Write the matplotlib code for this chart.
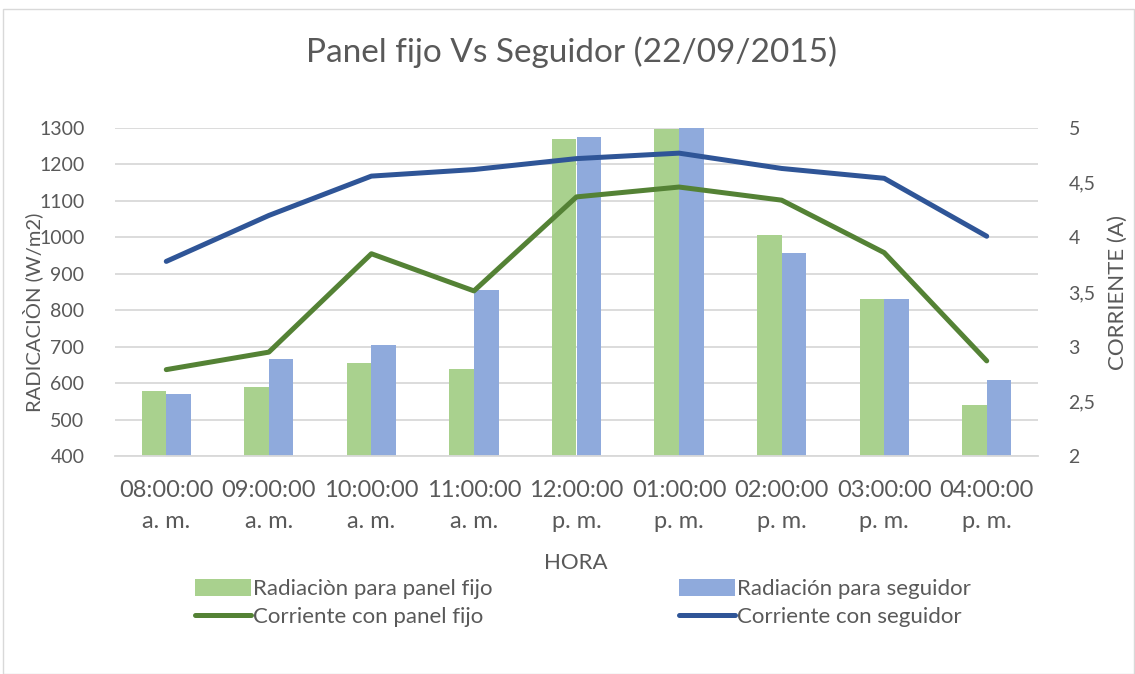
import matplotlib
matplotlib.use("Agg")
import matplotlib.pyplot as plt
import numpy as np
from matplotlib.patches import Rectangle

plt.rcParams['font.family'] = ['Lato', 'DejaVu Sans']

hours = ["08:00:00\na. m.", "09:00:00\na. m.", "10:00:00\na. m.", "11:00:00\na. m.",
         "12:00:00\np. m.", "01:00:00\np. m.", "02:00:00\np. m.", "03:00:00\np. m.",
         "04:00:00\np. m."]
rad_fijo = [579, 590, 654, 639, 1269, 1296, 1007, 831, 541]
rad_seguidor = [569, 666, 705, 855, 1274, 1300, 956, 830, 608]
corr_fijo = [2.79, 2.95, 3.85, 3.51, 4.37, 4.46, 4.34, 3.86, 2.87]
corr_seguidor = [3.78, 4.20, 4.56, 4.62, 4.72, 4.77, 4.63, 4.54, 4.01]
left_ticks = list(range(400, 1301, 100))
right_ticks = [2, 2.5, 3, 3.5, 4, 4.5, 5]

C_BAR_G = '#A9D18E'
C_BAR_B = '#8FAADC'
C_LINE_G = '#548235'
C_LINE_B = '#2F5597'
C_TEXT = '#595959'
C_GRID = '#D9D9D9'

W, H = 1135, 674
fig = plt.figure(figsize=(W / 100, H / 100), dpi=100)
fig.patches.append(Rectangle((3 / W, 0), (W - 4) / W, (H - 9) / H, transform=fig.transFigure,
                             fill=False, edgecolor=C_GRID, linewidth=1.0))

x0, x1, y0, y1 = 115, 1038, 128, 456
ax = fig.add_axes([x0 / W, 1 - y1 / H, (x1 - x0) / W, (y1 - y0) / H])
ax2 = ax.twinx()

x = np.arange(len(hours))
bw = 0.24
ax.bar(x - bw / 2, rad_fijo, bw, color=C_BAR_G, label='Radiaciòn para panel fijo', zorder=2)
ax.bar(x + bw / 2, rad_seguidor, bw, color=C_BAR_B, label='Radiación para seguidor', zorder=2)
ax.set_ylim(400, 1300)
ax.set_xlim(-0.5, len(hours) - 0.5)
ax.set_yticks(left_ticks)
ax.yaxis.grid(True, color=C_GRID, linewidth=1.3, zorder=0)
ax.set_axisbelow(True)
ax.set_xticks(x)
ax.set_xticklabels(hours, fontsize=17, color=C_TEXT, linespacing=1.6)
ax.tick_params(axis='x', length=0, pad=17)
ax.tick_params(axis='y', length=0, labelsize=14, labelcolor=C_TEXT, pad=22)
for s in ['top', 'right', 'left']:
    ax.spines[s].set_visible(False)
ax.spines['bottom'].set_color(C_GRID)
ax.spines['bottom'].set_linewidth(1.3)

ax2.plot(x, corr_fijo, color=C_LINE_G, linewidth=3.6, solid_capstyle='round',
         solid_joinstyle='round', label='Corriente con panel fijo', zorder=3)
ax2.plot(x, corr_seguidor, color=C_LINE_B, linewidth=3.6, solid_capstyle='round',
         solid_joinstyle='round', label='Corriente con seguidor', zorder=3)
ax2.set_ylim(2, 5)
ax2.set_yticks(right_ticks)
ax2.set_yticklabels([f"{v:g}".replace('.', ',') for v in right_ticks])
ax2.tick_params(axis='y', length=0, labelsize=14, labelcolor=C_TEXT, pad=22)
for s in ['top', 'right', 'left', 'bottom']:
    ax2.spines[s].set_visible(False)

# Axis titles
fig.text(33 / W, 1 - 312 / H, 'RADICACIÒN (W/m2)', rotation=90, ha='center', va='center',
         fontsize=14.5, color=C_TEXT)
fig.text(1118 / W, 1 - 293 / H, 'CORRIENTE (A)', rotation=90, ha='center', va='center',
         fontsize=16, color=C_TEXT)
fig.text(576 / W, 1 - 563 / H, 'HORA', ha='center', va='center', fontsize=16, color=C_TEXT)

fig.text(571 / W, 1 - 52 / H, 'Panel fijo Vs Seguidor (22/09/2015)', ha='center', va='center',
         fontsize=24, color=C_TEXT)

h1, l1 = ax.get_legend_handles_labels()
h2, l2 = ax2.get_legend_handles_labels()
handles = [h1[0], h2[0], h1[1], h2[1]]
labels = [l1[0], l2[0], l1[1], l2[1]]
fig.legend(handles, labels, loc='center', bbox_to_anchor=(583 / W, 1 - 603 / H), ncol=2,
           frameon=False, fontsize=16, labelcolor=C_TEXT, columnspacing=8.4,
           handlelength=2.5, handleheight=0.77, handletextpad=0.1, labelspacing=0.35,
           borderpad=0, borderaxespad=0)

fig.savefig('out.png', dpi=100)
